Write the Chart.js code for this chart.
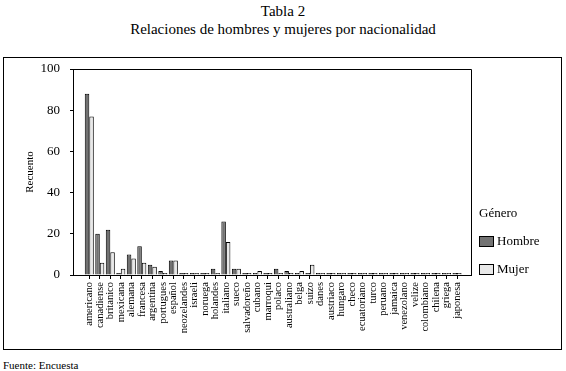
<!DOCTYPE html>
<html><head><meta charset="utf-8">
<script src="https://cdn.jsdelivr.net/npm/chart.js@4.4.0/dist/chart.umd.min.js"></script>
<style>
html,body{margin:0;padding:0;background:#fff;}
body{width:566px;height:371px;position:relative;overflow:hidden;font-family:"Liberation Serif","Times New Roman",serif;color:#000;}
#t1,#t2{position:absolute;left:0;width:566px;text-align:center;font-size:15px;line-height:18px;white-space:nowrap;}
#t1{top:2px;}
#t2{top:20px;}
#frame{position:absolute;left:3px;top:57px;width:559px;height:293px;border:1px solid #000;box-sizing:border-box;}
#src{position:absolute;left:3px;top:359px;font-size:11px;line-height:13px;white-space:nowrap;}
canvas{position:absolute;left:0;top:0;}
</style></head>
<body>
<div id="t1">Tabla 2</div>
<div id="t2">Relaciones de hombres y mujeres por nacionalidad</div>
<div id="frame"></div>
<div id="src">Fuente: Encuesta</div>
<canvas id="c" width="566" height="371" style="width:566px;height:371px"></canvas>
<script>
const categories = ['americano','canadiense','britanico','mexicana','alemana','francesa','argentina','portugues','español','neozelandes','israeli','noruega','holandes','italiano','sueco','salvadoreño','cubano','marroqui','polaco','australiano','belga','suizo','danes','austriaco','hungaro','checo','ecuatoriano','turco','peruano','jamaica','venezolano','velize','colombiano','chilena','griega','japonesa'];
const hombre = [88,20,22,0,10,14,5,2,7,0,0,0,3,26,3,1,0,0,3,2,0,0,0,0,0,0,0,0,0,0,0,0,0,1,0,0];
const mujer  = [77,6,11,3,8,6,4,0,7,0,0,0,0,16,3,0,2,0,0,1,2,5,1,0,0,0,0,0,1,0,1,0,1,0,0,1];
const seriesNames = ['Hombre','Mujer'];
const yTicks = [0,20,40,60,80,100];
const yTitle = 'Recuento';
const legendTitle = 'Género';

const SERIF = '"Liberation Serif", "Times New Roman", serif';
Chart.defaults.font.family = SERIF;
Chart.defaults.color = '#000';

const plotFrame = {
  id: 'plotFrame',
  afterDatasetsDraw(chart) {
    const a = chart.chartArea, ctx = chart.ctx;
    ctx.save();
    ctx.strokeStyle = '#000'; ctx.lineWidth = 1;
    ctx.beginPath();
    ctx.moveTo(Math.round(a.left) + 0.5, Math.round(a.top) + 0.5);
    ctx.lineTo(Math.round(a.right) + 0.5, Math.round(a.top) + 0.5);
    ctx.lineTo(Math.round(a.right) + 0.5, Math.round(a.bottom) + 0.5);
    ctx.stroke();
    ctx.restore();
  }
};

const sideLegend = {
  id: 'sideLegend',
  afterDraw(chart) {
    const a = chart.chartArea, ctx = chart.ctx;
    const x = Math.round(a.right) + 8;
    const base = Math.round(a.bottom);
    ctx.save();
    ctx.font = '13px ' + SERIF;
    ctx.textAlign = 'left'; ctx.textBaseline = 'middle';
    ctx.fillStyle = '#000';
    ctx.fillText(legendTitle, x, base - 61);
    chart.data.datasets.forEach((ds, i) => {
      const y = base - 39 + i * 28;
      ctx.fillStyle = ds.backgroundColor;
      ctx.fillRect(x, y, 15, 11);
      ctx.strokeStyle = '#000'; ctx.lineWidth = 1;
      ctx.strokeRect(x + 0.5, y + 0.5, 14, 10);
      ctx.fillStyle = '#000';
      ctx.fillText(ds.label, x + 18, y + 6);
    });
    ctx.restore();
  }
};

new Chart(document.getElementById('c'), {
  type: 'bar',
  data: {
    labels: categories,
    datasets: [
      { label: seriesNames[0], data: hombre, backgroundColor: '#727272', borderColor: '#000', borderWidth: 1 },
      { label: seriesNames[1], data: mujer, backgroundColor: '#e8e8e8', borderColor: '#000', borderWidth: 1 }
    ]
  },
  options: {
    responsive: false,
    animation: false,
    categoryPercentage: 0.86,
    barPercentage: 1,
    minBarLength: 2,
    layout: { padding: { top: 69, right: 95, bottom: 0, left: 0 } },
    plugins: { legend: { display: false }, tooltip: { enabled: false }, title: { display: false } },
    scales: {
      x: {
        type: 'category',
        offset: false,
        afterBuildTicks(s) { s._startValue = -1.55; s._valueRange = 37.88; },
        afterFit(s) { s.height = 96; },
        grid: { display: true, drawOnChartArea: false, drawTicks: true, tickLength: 4, color: '#000', lineWidth: 1, offset: false },
        border: { display: true, color: '#000', width: 1 },
        ticks: { autoSkip: false, maxRotation: 90, minRotation: 90, padding: 3, color: '#000', font: { family: SERIF, size: 10.5 } }
      },
      y: {
        min: 0, max: 100,
        afterBuildTicks(s) { s.ticks = yTicks.map(v => ({ value: v })); },
        afterFit(s) { s.width = 73; },
        grid: { drawOnChartArea: false, drawTicks: true, tickLength: 3, color: '#000', lineWidth: 1 },
        border: { display: true, color: '#000', width: 1 },
        ticks: { padding: 10, color: '#000', font: { family: SERIF, size: 13 } },
        title: { display: true, text: yTitle, color: '#000', font: { family: SERIF, size: 11 }, padding: { top: 24, bottom: 0 } }
      }
    }
  },
  plugins: [plotFrame, sideLegend]
});
</script>
</body></html>
